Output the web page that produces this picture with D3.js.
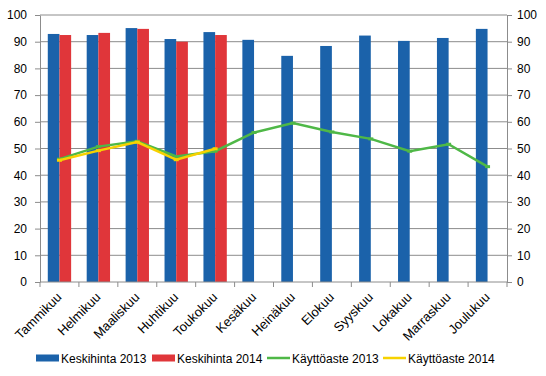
<!DOCTYPE html>
<html>
<head>
<meta charset="utf-8">
<script src="https://cdn.jsdelivr.net/npm/d3@7"></script>
<style>
  body { margin: 0; background: #fff; }
  text { font-family: "Liberation Sans", Arial, sans-serif; fill: #000; }
</style>
</head>
<body>
<div id="chart"></div>
<script>
// Months (Finnish)
const months = ["Tammikuu", "Helmikuu", "Maaliskuu", "Huhtikuu", "Toukokuu", "Kesäkuu",
  "Heinäkuu", "Elokuu", "Syyskuu", "Lokakuu", "Marraskuu", "Joulukuu"];

// Average price (left axis)
const price2013 = [92.9, 92.5, 95.1, 91.0, 93.6, 90.7, 84.7, 88.4, 92.3, 90.3, 91.4, 94.8];
const price2014 = [92.5, 93.3, 94.8, 90.0, 92.5];

// Occupancy rate (right axis)
const occ2013 = [46.0, 50.7, 52.7, 47.0, 49.0, 56.0, 59.5, 56.2, 53.6, 49.0, 51.6, 43.2];
const occ2014 = [45.6, 49.2, 52.4, 45.8, 49.9];

const yTicks = [0, 10, 20, 30, 40, 50, 60, 70, 80, 90, 100];

const colors = { b13: "#1b62aa", b14: "#e0363a", l13: "#4fb847", l14: "#f7d200" };

const W = 546, H = 376;
const margin = { top: 15, right: 39, bottom: 94, left: 40 };
const width = W - margin.left - margin.right;
const height = H - margin.top - margin.bottom;

const svg = d3.select("#chart").append("svg")
  .attr("width", W).attr("height", H);
const g = svg.append("g").attr("transform", `translate(${margin.left},${margin.top})`);

const x = d3.scaleBand().domain(months).range([0, width]).paddingInner(0).paddingOuter(0);
const xInner = d3.scaleBand().domain(["b13", "b14"]).range([0, x.bandwidth() * 0.6]);
const y = d3.scaleLinear().domain([0, 100]).range([height, 0]);
const y2 = d3.scaleLinear().domain([0, 100]).range([height, 0]);

// gridlines
g.selectAll(".grid").data(yTicks.slice(1)).join("line")
  .attr("x1", 0).attr("x2", width)
  .attr("y1", d => y(d)).attr("y2", d => y(d))
  .attr("stroke", "#8c8c8c").attr("stroke-width", 1);

// bars
const groupOffset = x.bandwidth() * 0.2;
const barData = [];
months.forEach((m, i) => {
  barData.push({ m, k: "b13", v: price2013[i] });
  if (price2014[i] != null) barData.push({ m, k: "b14", v: price2014[i] });
});
g.selectAll(".bar").data(barData).join("rect")
  .attr("x", d => x(d.m) + groupOffset + xInner(d.k))
  .attr("width", xInner.bandwidth())
  .attr("y", d => y(d.v))
  .attr("height", d => height - y(d.v))
  .attr("fill", d => colors[d.k]);

// lines
const line = d3.line()
  .x((d, i) => x(months[i]) + x.bandwidth() / 2)
  .y(d => y2(d));
[[occ2013, colors.l13], [occ2014, colors.l14]].forEach(([data, c]) => {
  g.append("path").datum(data)
    .attr("fill", "none").attr("stroke", c).attr("stroke-width", 2.5)
    .attr("d", line);
  g.selectAll(null).data(data).join("rect")
    .attr("x", (d, i) => x(months[i]) + x.bandwidth() / 2 - 2.5)
    .attr("y", d => y2(d) - 1.5)
    .attr("width", 5).attr("height", 3)
    .attr("fill", c);
});

// axes
const axisStyle = sel => {
  sel.select(".domain").attr("stroke", "#8c8c8c");
  sel.selectAll(".tick line").attr("stroke", "#8c8c8c");
  sel.selectAll(".tick text").style("font-size", "12px").attr("fill", "#000");
};
g.append("g")
  .call(d3.axisLeft(y).tickValues(yTicks).tickSize(5).tickSizeOuter(0).tickPadding(8))
  .call(axisStyle);
g.append("g").attr("transform", `translate(${width},0)`)
  .call(d3.axisRight(y2).tickValues(yTicks).tickSize(5).tickSizeOuter(0).tickPadding(5))
  .call(axisStyle);

const xAxis = g.append("g").attr("transform", `translate(0,${height})`);
xAxis.append("line").attr("x1", 0).attr("x2", width).attr("stroke", "#8c8c8c");
xAxis.selectAll(".xt").data(d3.range(months.length + 1)).join("line")
  .attr("x1", i => i * x.step()).attr("x2", i => i * x.step())
  .attr("y1", 0).attr("y2", 5).attr("stroke", "#8c8c8c");
xAxis.selectAll(".xl").data(months).join("text")
  .attr("text-anchor", "end")
  .attr("transform", d => `translate(${x(d) + x.bandwidth() / 2 + 3},${16}) rotate(-45)`)
  .style("font-size", "13px")
  .text(d => d);

// legend
const legend = [
  { label: "Keskihinta 2013", c: colors.b13, type: "bar", x: 36 },
  { label: "Keskihinta 2014", c: colors.b14, type: "bar", x: 152 },
  { label: "Käyttöaste 2013", c: colors.l13, type: "line", x: 267 },
  { label: "Käyttöaste 2014", c: colors.l14, type: "line", x: 383 }
];
const lg = svg.append("g").attr("transform", "translate(0,358)");
legend.forEach(d => {
  if (d.type === "bar") {
    lg.append("rect").attr("x", d.x).attr("y", -3.5).attr("width", 23).attr("height", 7).attr("fill", d.c);
  } else {
    lg.append("line").attr("x1", d.x).attr("x2", d.x + 23).attr("y1", 0).attr("y2", 0)
      .attr("stroke", d.c).attr("stroke-width", 2.5);
  }
  lg.append("text").attr("x", d.x + 25).attr("y", 4.5).style("font-size", "12px").text(d.label);
});
</script>
</body>
</html>
